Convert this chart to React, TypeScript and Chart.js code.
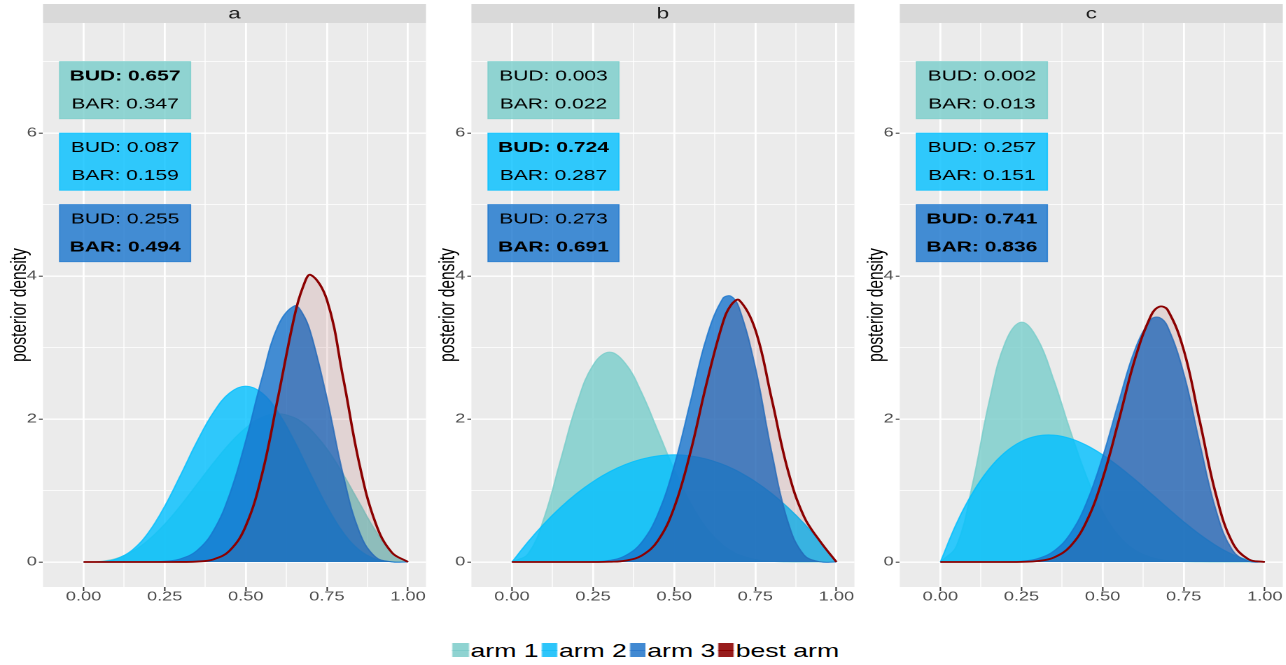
import React, { useEffect, useRef } from 'react';
import { Chart, registerables } from 'chart.js';

Chart.register(...registerables);

// ---------------- data ----------------
const X = [0, 0.05, 0.1, 0.15, 0.2, 0.25, 0.3, 0.35, 0.4, 0.45, 0.5, 0.55, 0.6, 0.65, 0.675, 0.7, 0.75, 0.8, 0.85, 0.9, 0.95, 1];

const PANELS = ['a', 'b', 'c'];
const ARMS = ['arm 1', 'arm 2', 'arm 3', 'best arm'];

// panel a
const A_ARM1 = [0, 0.0068, 0.0486, 0.1463, 0.3072, 0.5273, 0.7938, 1.0869, 1.3824, 1.6539, 1.875, 2.0214, 2.0736, 2.0185, 1.9491, 1.8522, 1.582, 1.2288, 0.8291, 0.4374, 0.1286, 0];
const A_ARM2 = [0, 0.0032, 0.0413, 0.1665, 0.4129, 0.7787, 1.2252, 1.6876, 2.0902, 2.3639, 2.4609, 2.3639, 2.0902, 1.6876, 1.4591, 1.2252, 0.7787, 0.4129, 0.1665, 0.0413, 0.0032, 0];
const A_ARM3 = [0, 0, 0, 0.0001, 0.0012, 0.0095, 0.0464, 0.1622, 0.4359, 0.9449, 1.6995, 2.577, 3.3106, 3.5838, 3.4794, 3.2114, 2.2972, 1.2248, 0.4246, 0.0699, 0.002, 0];
const A_BEST = [0, 0, 0, 0, 0, 0, 0.0006, 0.0056, 0.0359, 0.1573, 0.5042, 1.2264, 2.3168, 3.4384, 3.8304, 4.0172, 3.667, 2.5782, 1.3737, 0.5458, 0.1338, 0];

// panel b
const B_ARM1 = [0, 0.1152, 0.6314, 1.4282, 2.2146, 2.7531, 2.9351, 2.7744, 2.3649, 1.8312, 1.2891, 0.8207, 0.4671, 0.2332, 0.1555, 0.099, 0.034, 0.0087, 0.0014, 0.0001, 0, 0];
const B_ARM2 = [0, 0.285, 0.54, 0.765, 0.96, 1.125, 1.26, 1.365, 1.44, 1.485, 1.5, 1.485, 1.44, 1.365, 1.3163, 1.26, 1.125, 0.96, 0.765, 0.54, 0.285, 0];
const B_ARM3 = [0, 0, 0, 0, 0.0002, 0.0037, 0.0221, 0.0899, 0.2761, 0.6732, 1.3454, 2.2439, 3.1447, 3.6878, 3.7186, 3.5592, 2.7278, 1.5513, 0.5715, 0.0997, 0.003, 0];
const B_BEST = [0, 0, 0, 0, 0, 0, 0.0028, 0.0194, 0.0897, 0.2994, 0.7615, 1.5333, 2.502, 3.3457, 3.592, 3.6651, 3.2498, 2.2919, 1.2906, 0.636, 0.288, 0];

// panel c
const C_ARM1 = [0, 0.2253, 1.108, 2.2357, 3.0709, 3.3553, 3.1161, 2.5398, 1.8446, 1.2003, 0.6982, 0.3601, 0.1619, 0.0619, 0.0356, 0.0193, 0.0046, 0.0008, 0, 0, 0, 0];
const C_ARM2 = [0, 0.5415, 0.972, 1.3005, 1.536, 1.6875, 1.764, 1.7745, 1.728, 1.6335, 1.5, 1.3365, 1.152, 0.9555, 0.8556, 0.756, 0.5625, 0.384, 0.2295, 0.108, 0.0285, 0];
const C_ARM3 = [0, 0, 0, 0.0001, 0.0016, 0.0109, 0.0477, 0.1538, 0.3918, 0.8234, 1.4664, 2.2457, 2.9749, 3.3977, 3.421, 3.2983, 2.6424, 1.651, 0.7184, 0.1676, 0.009, 0];
const C_BEST = [0, 0, 0, 0, 0, 0.0017, 0.013, 0.0633, 0.217, 0.5625, 1.1624, 1.9814, 2.8424, 3.454, 3.5718, 3.5303, 2.9673, 1.9594, 0.9339, 0.2746, 0.0375, 0];

// BUD / BAR label values (arm 1, arm 2, arm 3)
const BUD_A = [0.657, 0.087, 0.255];
const BAR_A = [0.347, 0.159, 0.494];
const BUD_B = [0.003, 0.724, 0.273];
const BAR_B = [0.022, 0.287, 0.691];
const BUD_C = [0.002, 0.257, 0.741];
const BAR_C = [0.013, 0.151, 0.836];

// axis ticks
const X_GRID = [0, 0.125, 0.25, 0.375, 0.5, 0.625, 0.75, 0.875, 1];
const X_MAJOR = [0, 0.25, 0.5, 0.75, 1];
const X_TICK_LABELS = ['0.00', '0.25', '0.50', '0.75', '1.00'];
const Y_GRID = [0, 1, 2, 3, 4, 5, 6, 7];
const Y_MAJOR = [0, 2, 4, 6];
const Y_TICK_LABELS = ['0', '2', '4', '6'];

const PANEL_SERIES = [
  [A_ARM1, A_ARM2, A_ARM3, A_BEST],
  [B_ARM1, B_ARM2, B_ARM3, B_BEST],
  [C_ARM1, C_ARM2, C_ARM3, C_BEST],
];
const PANEL_BUD = [BUD_A, BUD_B, BUD_C];
const PANEL_BAR = [BAR_A, BAR_B, BAR_C];

// ---------------- layout / style ----------------
const FONT = '"Liberation Sans", Arial, Helvetica, sans-serif';
const SX = 1.4; // horizontal stretch of the whole figure
const u = (v: number) => v / SX;

const CANVAS_W = 307;
const CANVAS_H = 620;
const CANVAS_LEFT = [0, 429, 857]; // in output pixels
const AREA_LEFT = 43; // output pixels from canvas left to panel
const AREA_W = 383; // output pixels
const AREA_TOP = 23;
const AREA_BOTTOM = 587;
const STRIP_TOP = 4;

const X_MIN = -0.125;
const X_MAX = 1.0555;
const Y_MIN = -0.35;
const Y_MAX = 7.54;

const ARM_FILL = ['rgba(120,205,202,0.8)', 'rgba(0,191,255,0.8)', 'rgba(24,116,205,0.8)', 'rgba(139,0,0,0.1)'];
const ARM_LINE = ['rgba(120,205,202,0.8)', 'rgba(0,191,255,0.8)', 'rgba(24,116,205,0.8)', '#8B0000'];
const ARM_LINE_W = [1, 1, 1, 1.8];
const KEY_FILL = ['#8FD3D1', '#2DC5FA', '#4189D2', '#981C1C'];
const KEY_LINE = ['#7ECCCA', '#1CBFF6', '#2F7ACC', '#8B0000'];

const LABEL_X0 = -0.074;
const LABEL_X1 = 0.33;
const LABEL_YC = [6.6, 5.6, 4.6];
const LABEL_HALF = 0.4;
const LABEL_LINE = 0.196;

const near = (a: number, b: number) => Math.abs(a - b) < 1e-9;
const majorIdx = (list: number[], v: number) => list.findIndex((m) => near(m, v));

function Panel({ index }: { index: number }) {
  const canvasRef = useRef<HTMLCanvasElement | null>(null);

  useEffect(() => {
    const canvas = canvasRef.current;
    if (!canvas) return;
    const series = PANEL_SERIES[index];
    const bud = PANEL_BUD[index];
    const bar = PANEL_BAR[index];
    const budMax = Math.max(...bud);
    const barMax = Math.max(...bar);

    const decor = {
      id: 'facetDecor',
      beforeDraw(chart: any) {
        const { ctx, chartArea } = chart;
        const { left, right, top, bottom } = chartArea;
        ctx.save();
        ctx.fillStyle = '#EBEBEB';
        ctx.fillRect(left, top, right - left, bottom - top);
        ctx.fillStyle = '#D9D9D9';
        ctx.fillRect(left, STRIP_TOP, right - left, top - STRIP_TOP);
        ctx.fillStyle = '#1A1A1A';
        ctx.font = `16px ${FONT}`;
        ctx.textAlign = 'center';
        ctx.textBaseline = 'middle';
        ctx.fillText(PANELS[index], (left + right) / 2, (STRIP_TOP + top) / 2 + 0.5);
        ctx.restore();
      },
      afterDatasetsDraw(chart: any) {
        const { ctx } = chart;
        const xs = chart.scales.x;
        const ys = chart.scales.y;
        const x0 = xs.getPixelForValue(LABEL_X0);
        const x1 = xs.getPixelForValue(LABEL_X1);
        const cx = (x0 + x1) / 2;
        ctx.save();
        for (let i = 0; i < 3; i++) {
          const yt = ys.getPixelForValue(LABEL_YC[i] + LABEL_HALF);
          const yb = ys.getPixelForValue(LABEL_YC[i] - LABEL_HALF);
          ctx.fillStyle = ARM_FILL[i];
          ctx.fillRect(x0, yt, x1 - x0, yb - yt);
          ctx.strokeStyle = ARM_LINE[i];
          ctx.lineWidth = 0.8;
          ctx.strokeRect(x0, yt, x1 - x0, yb - yt);
          ctx.fillStyle = '#000000';
          ctx.textAlign = 'center';
          ctx.textBaseline = 'middle';
          ctx.font = `${bud[i] === budMax ? 'bold ' : ''}15px ${FONT}`;
          ctx.fillText(`BUD: ${bud[i].toFixed(3)}`, cx, ys.getPixelForValue(LABEL_YC[i] + LABEL_LINE));
          ctx.font = `${bar[i] === barMax ? 'bold ' : ''}15px ${FONT}`;
          ctx.fillText(`BAR: ${bar[i].toFixed(3)}`, cx, ys.getPixelForValue(LABEL_YC[i] - LABEL_LINE));
        }
        ctx.restore();
      },
    };

    const chart = new Chart(canvas, {
      type: 'line',
      data: {
        datasets: ARMS.map((name, i) => ({
          label: name,
          data: X.map((x, k) => ({ x, y: series[i][k] })),
          borderColor: ARM_LINE[i],
          backgroundColor: ARM_FILL[i],
          borderWidth: ARM_LINE_W[i],
          fill: 'origin',
          pointRadius: 0,
          pointHoverRadius: 0,
          tension: 0.4,
          order: 3 - i,
        })),
      },
      options: {
        responsive: false,
        animation: false,
        devicePixelRatio: 2,
        events: [],
        layout: {
          padding: { left: 0, right: CANVAS_W - u(AREA_LEFT) - u(AREA_W), top: AREA_TOP, bottom: 0 },
        },
        plugins: {
          legend: { display: false },
          tooltip: { enabled: false },
          title: { display: false },
        },
        scales: {
          x: {
            type: 'linear',
            min: X_MIN,
            max: X_MAX,
            afterBuildTicks: (s: any) => {
              s.ticks = X_GRID.map((v) => ({ value: v }));
            },
            afterFit: (s: any) => {
              s.height = CANVAS_H - AREA_BOTTOM;
            },
            ticks: {
              autoSkip: false,
              maxRotation: 0,
              minRotation: 0,
              color: '#4D4D4D',
              font: { family: FONT, size: 13, lineHeight: 1 },
              padding: -0.5,
              callback: (v: any) => {
                const k = majorIdx(X_MAJOR, Number(v));
                return k >= 0 ? X_TICK_LABELS[k] : '';
              },
            },
            grid: {
              color: '#FFFFFF',
              lineWidth: (c: any) => (c.tick && majorIdx(X_MAJOR, c.tick.value) >= 0 ? 1.4 : 0.7),
              tickColor: (c: any) => (c.tick && majorIdx(X_MAJOR, c.tick.value) >= 0 ? '#333333' : 'rgba(0,0,0,0)'),
              tickWidth: 1,
              tickLength: 4,
            },
            border: { display: false },
          },
          y: {
            type: 'linear',
            min: Y_MIN,
            max: Y_MAX,
            afterBuildTicks: (s: any) => {
              s.ticks = Y_GRID.map((v) => ({ value: v }));
            },
            afterFit: (s: any) => {
              s.width = u(AREA_LEFT);
            },
            ticks: {
              color: '#4D4D4D',
              font: { family: FONT, size: 13, lineHeight: 1 },
              padding: 1.4,
              callback: (v: any) => {
                const k = majorIdx(Y_MAJOR, Number(v));
                return k >= 0 ? Y_TICK_LABELS[k] : '';
              },
            },
            grid: {
              color: '#FFFFFF',
              lineWidth: (c: any) => (c.tick && majorIdx(Y_MAJOR, c.tick.value) >= 0 ? 1.4 : 0.7),
              tickColor: (c: any) => (c.tick && majorIdx(Y_MAJOR, c.tick.value) >= 0 ? '#333333' : 'rgba(0,0,0,0)'),
              tickWidth: 1,
              tickLength: 2.9,
            },
            border: { display: false },
            title: {
              display: true,
              text: 'posterior density',
              color: '#000000',
              font: { family: FONT, size: 15.5, lineHeight: 1 },
              padding: { top: 6.5, bottom: 0 },
            },
          },
        },
      } as any,
      plugins: [decor],
    });
    return () => chart.destroy();
  }, [index]);

  return (
    <canvas
      ref={canvasRef}
      width={CANVAS_W}
      height={CANVAS_H}
      style={{ position: 'absolute', left: u(CANVAS_LEFT[index]), top: 0 }}
    />
  );
}

export default function App() {
  return (
    <div
      style={{
        position: 'fixed',
        left: 0,
        top: 0,
        width: u(1286),
        height: 665,
        background: '#FFFFFF',
        transform: `scaleX(${SX})`,
        transformOrigin: '0 0',
        overflow: 'hidden',
      }}
    >
      {PANELS.map((p, i) => (
        <Panel key={p} index={i} />
      ))}
      <div
        style={{
          position: 'absolute',
          left: 0,
          top: 636,
          width: u(1286),
          height: 28,
          boxSizing: 'border-box',
          paddingLeft: u(6),
          display: 'flex',
          justifyContent: 'center',
          alignItems: 'center',
          fontFamily: FONT,
          fontSize: 19,
          lineHeight: 1,
          color: '#000000',
          whiteSpace: 'nowrap',
        }}
      >
        {ARMS.map((name, i) => (
          <div key={name} style={{ display: 'flex', alignItems: 'center', marginRight: i < ARMS.length - 1 ? u(2.7) : 0 }}>
            <div style={{ width: u(16), height: 14, background: KEY_FILL[i], position: 'relative', marginRight: u(1.7) }}>
              <div style={{ position: 'absolute', left: 0, right: 0, top: 6.5, height: 1, background: KEY_LINE[i] }} />
            </div>
            <span>{name}</span>
          </div>
        ))}
      </div>
    </div>
  );
}
